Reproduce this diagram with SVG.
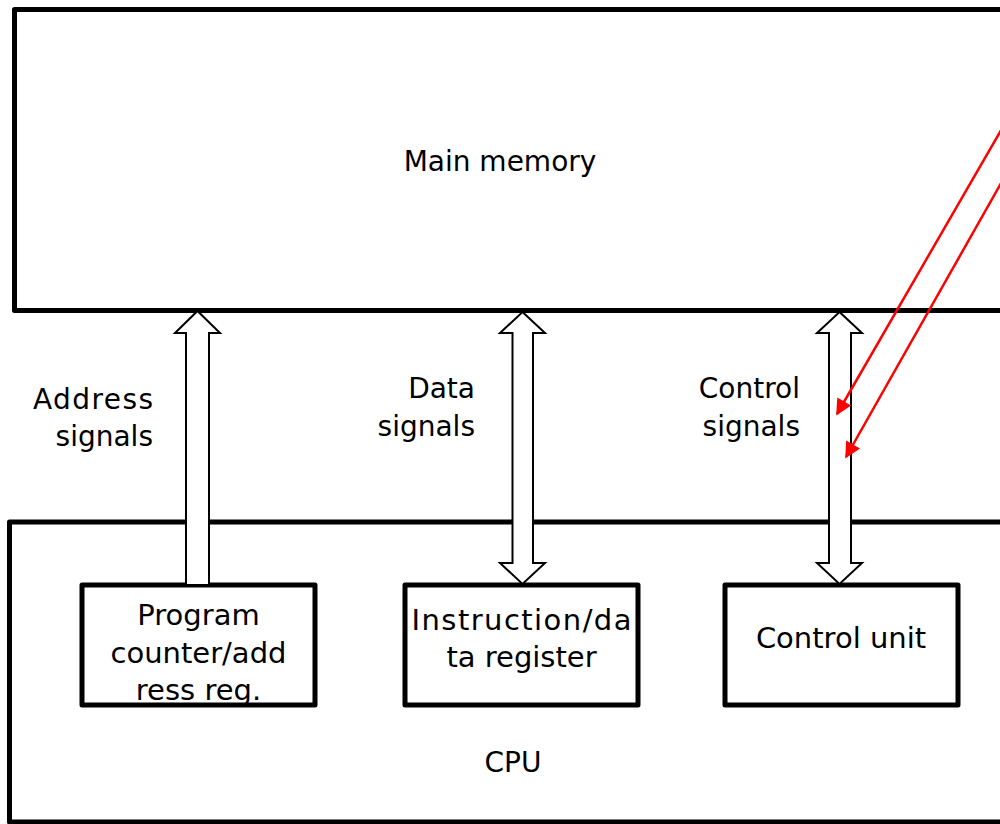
<svg xmlns="http://www.w3.org/2000/svg" width="1000" height="824" viewBox="0 0 1000 824">
  <defs>
    <style>
      .box { fill: #ffffff; stroke: #000000; stroke-width: 5; stroke-linejoin: round; }
      .reg { fill: #ffffff; stroke: #000000; stroke-width: 5; stroke-linejoin: round; }
      .bus { fill: #ffffff; stroke: #000000; stroke-width: 2; stroke-linejoin: miter; }
      .lbl { font-family: "DejaVu Sans", "Liberation Sans", sans-serif; font-size: 28px; fill: #000000; }
      .rl { font-family: "DejaVu Sans", "Liberation Sans", sans-serif; font-size: 29px; fill: #000000; text-anchor: middle; }
      .red { stroke: #ff0000; stroke-width: 2.5; fill: none; marker-end: url(#redhead); }
    </style>
    <marker id="redhead" viewBox="0 0 10 10" refX="9" refY="5" markerWidth="20" markerHeight="16" markerUnits="userSpaceOnUse" orient="auto">
      <path d="M0,0 L10,5 L0,10 z" fill="#ff0000"/>
    </marker>
  </defs>
  <rect width="1000" height="824" fill="#ffffff"/>

  <g id="main-memory">
    <rect class="box" x="14.5" y="9.5" width="1000" height="301"/>
    <text class="lbl" x="500" y="171" text-anchor="middle">Main memory</text>
  </g>

  <g id="cpu">
    <rect class="box" x="9.5" y="522" width="1000" height="300"/>
    <text class="lbl" x="513" y="772" text-anchor="middle">CPU</text>
  </g>

  <g id="program-counter">
    <rect class="reg" x="82" y="585" width="233" height="120"/>
    <text class="rl" x="198.5" y="625">Program</text>
    <text class="rl" x="198.5" y="663">counter/add</text>
    <text class="rl" x="198.5" y="700">ress reg.</text>
  </g>

  <g id="instruction-register">
    <rect class="reg" x="405" y="585" width="233" height="120"/>
    <text class="rl" x="521.5" y="630" textLength="220">Instruction/da</text>
    <text class="rl" x="521.5" y="667">ta register</text>
  </g>

  <g id="control-unit">
    <rect class="reg" x="725" y="585" width="233" height="120"/>
    <text class="rl" x="841" y="648">Control unit</text>
  </g>

  <g id="connectors">
    <polygon id="address-bus" class="bus" points="197.5,311 220,333 209,333 209,585 186,585 186,333 175,333"/>
    <polygon id="data-bus" class="bus" points="522.5,312 545,333 533,333 533,563 545,563 522.5,584 500,563 512.5,563 512.5,333 500,333"/>
    <polygon id="control-bus" class="bus" points="839.5,312 862,333 851,333 851,563 862,563 839.5,584 817,563 829,563 829,333 817,333"/>
    <line class="red" x1="1004" y1="125" x2="837" y2="414"/>
    <line class="red" x1="1004" y1="178" x2="846" y2="457"/>
  </g>

  <g id="bus-labels">
    <text class="lbl" x="153" y="409" text-anchor="end" textLength="120">Address</text>
    <text class="lbl" x="153" y="446" text-anchor="end">signals</text>
    <text class="lbl" x="475" y="398" text-anchor="end">Data</text>
    <text class="lbl" x="475" y="436" text-anchor="end">signals</text>
    <text class="lbl" x="800" y="398" text-anchor="end">Control</text>
    <text class="lbl" x="800" y="436" text-anchor="end">signals</text>
  </g>
</svg>
